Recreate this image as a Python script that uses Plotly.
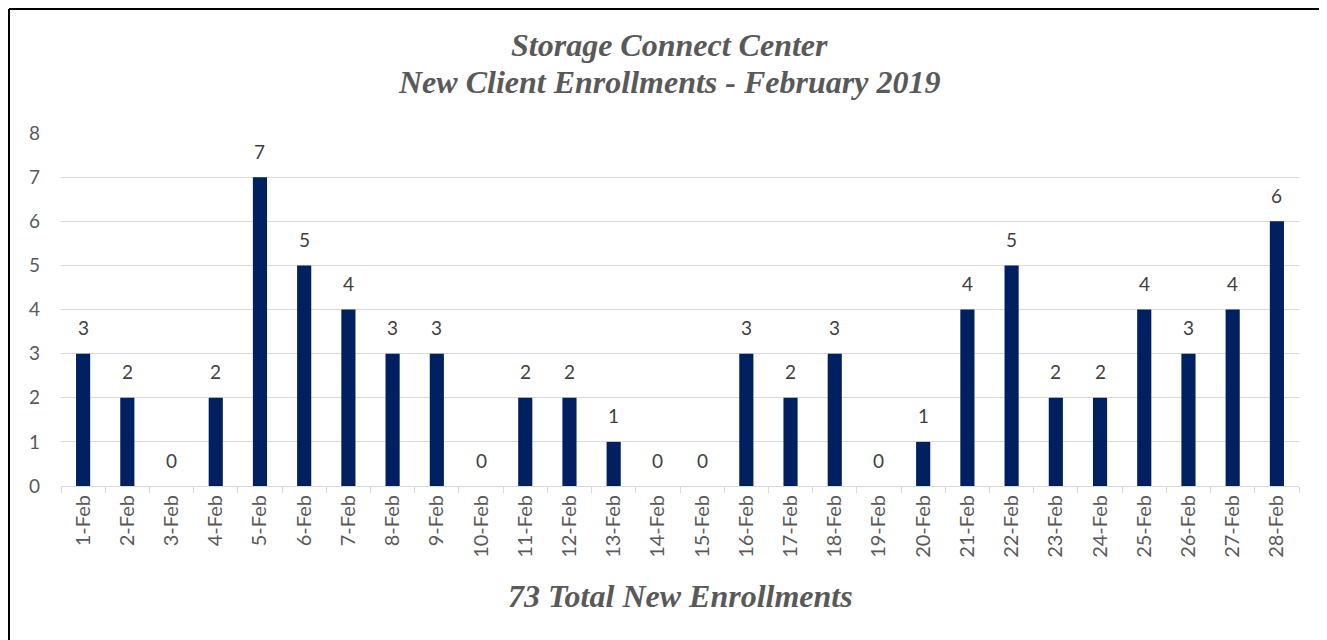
import plotly.graph_objects as go

days = [f"{d}-Feb" for d in range(1, 29)]
enrollments = [3, 2, 0, 2, 7, 5, 4, 3, 3, 0, 2, 2, 1, 0, 0, 3, 2, 3, 0, 1, 4, 5, 2, 2, 4, 3, 4, 6]
title_lines = ["Storage Connect Center", "New Client Enrollments - February 2019"]
footer = "73 Total New Enrollments"

# page has an 8px body margin, so the figure is drawn 8px smaller and offset
OFF = 8
W, H = 1327 - OFF, 640 - OFF
ml, mr, mt, mb = 61 - OFF, 28, 133 - OFF, 154
pw = W - ml - mr
ph = H - mt - mb

def px_x(x):
    return (x - OFF - ml) / pw

def px_y(y):
    return (H - mb - (y - OFF)) / ph

sans = "Lato, Liberation Sans, sans-serif"

fig = go.Figure(go.Bar(
    x=days, y=enrollments,
    marker=dict(color="#002060", line=dict(width=0)),
    hoverinfo="x+y",
))

# data labels above each bar
for d, v in zip(days, enrollments):
    fig.add_annotation(x=d, y=v, text=str(v), showarrow=False,
                       yshift=26, yanchor="middle", xanchor="center",
                       font=dict(family=sans, size=19, color="#404040"))

fig.update_layout(
    width=W, height=H,
    margin=dict(l=ml, r=mr, t=mt, b=mb),
    paper_bgcolor="white", plot_bgcolor="white",
    bargap=0.68,
    showlegend=False,
    font=dict(family=sans, color="#595959"),
)
fig.update_xaxes(
    type="category",
    tickangle=-90,
    tickfont=dict(size=20, color="#595959"),
    showline=True, linecolor="#d9d9d9", linewidth=1,
    ticks="outside", tickson="boundaries", ticklen=6, tickcolor="#d9d9d9",
    showgrid=False,
)
fig.update_yaxes(
    range=[0, 8], dtick=1,
    showgrid=True, gridcolor="#d9d9d9", gridwidth=1,
    zeroline=False,
    tickfont=dict(size=19, color="#595959"),
    ticklabelstandoff=20,
)

title_font = dict(family="Liberation Serif, Times New Roman, serif", size=32, color="#595959")
fig.add_annotation(text=f"<b><i>{title_lines[0]}</i></b>", xref="paper", yref="paper",
                   x=px_x(669), y=px_y(45), showarrow=False, font=title_font,
                   xanchor="center", yanchor="middle")
fig.add_annotation(text=f"<b><i>{title_lines[1]}</i></b>", xref="paper", yref="paper",
                   x=px_x(669), y=px_y(82), showarrow=False, font=title_font,
                   xanchor="center", yanchor="middle")
fig.add_annotation(text=f"<b><i>{footer}</i></b>", xref="paper", yref="paper",
                   x=px_x(680), y=px_y(596), showarrow=False, font=title_font,
                   xanchor="center", yanchor="middle")

# border lines of the framed box
fig.add_shape(type="line", xref="paper", yref="paper",
              x0=px_x(9), x1=px_x(1340), y0=px_y(9), y1=px_y(9),
              line=dict(color="black", width=2))
fig.add_shape(type="line", xref="paper", yref="paper",
              x0=px_x(9), x1=px_x(9), y0=px_y(9), y1=px_y(650),
              line=dict(color="black", width=2))

fig.write_html("out.html")
